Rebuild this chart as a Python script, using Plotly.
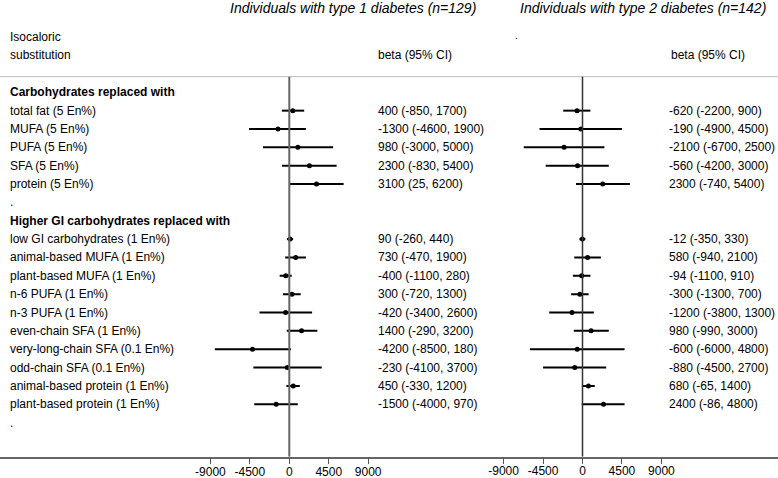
import plotly.graph_objects as go

# ---------------- data ----------------
row_labels = [
    "Carbohydrates replaced with",
    "total fat (5 En%)", "MUFA (5 En%)", "PUFA (5 En%)", "SFA (5 En%)", "protein (5 En%)",
    ".",
    "Higher GI carbohydrates replaced with",
    "low GI carbohydrates (1 En%)", "animal-based MUFA (1 En%)", "plant-based MUFA (1 En%)",
    "n-6 PUFA (1 En%)", "n-3 PUFA (1 En%)", "even-chain SFA (1 En%)",
    "very-long-chain SFA (0.1 En%)", "odd-chain SFA (0.1 En%)",
    "animal-based protein (1 En%)", "plant-based protein (1 En%)",
    ".",
]
header_rows = [0, 7]
data_rows = [1, 2, 3, 4, 5, 8, 9, 10, 11, 12, 13, 14, 15, 16, 17]

t1_est = [400, -1300, 980, 2300, 3100, 90, 730, -400, 300, -420, 1400, -4200, -230, 450, -1500]
t1_lo = [-850, -4600, -3000, -830, 25, -260, -470, -1100, -720, -3400, -290, -8500, -4100, -330, -4000]
t1_hi = [1700, 1900, 5000, 5400, 6200, 440, 1900, 280, 1300, 2600, 3200, 180, 3700, 1200, 970]

t2_est = [-620, -190, -2100, -560, 2300, -12, 580, -94, -300, -1200, 980, -600, -880, 680, 2400]
t2_lo = [-2200, -4900, -6700, -4200, -740, -350, -940, -1100, -1300, -3800, -990, -6000, -4500, -65, -86]
t2_hi = [900, 4500, 2500, 3000, 5400, 330, 2100, 910, 700, 1300, 3000, 4800, 2700, 1400, 4800]

tick_vals = [-9000, -4500, 0, 4500, 9000]
title1 = "Individuals with type 1 diabetes (n=129)"
title2 = "Individuals with type 2 diabetes (n=142)"

# ---------------- layout constants ----------------
W, H = 778, 478
ROW0, ROWH = 92.3, 18.35          # pixel centre of first row, row height
AXIS_PX = 456.7                   # pixel y of x-axis line
PPU = 114.1                        # data units per pixel
Z1, Z2 = 289.3, 582.5             # pixel x of zero lines


def yrow(px):
    return (px - ROW0) / ROWH


FONT = "Liberation Sans, Arial, sans-serif"

fig = go.Figure()

for est, lo, hi, xa in [(t1_est, t1_lo, t1_hi, "x"), (t2_est, t2_lo, t2_hi, "x2")]:
    fig.add_trace(go.Scatter(
        x=est, y=data_rows, xaxis=xa, yaxis="y", mode="markers",
        marker=dict(color="black", size=5, symbol="circle"),
        error_x=dict(type="data", symmetric=False,
                     array=[h - e for h, e in zip(hi, est)],
                     arrayminus=[e - l for e, l in zip(est, lo)],
                     thickness=2, width=0, color="black"),
        showlegend=False, hoverinfo="skip",
    ))

ann = []
for i, lab in enumerate(row_labels):
    ann.append(dict(x=8 / W, xref="paper", y=i, yref="y", text=f"<b>{lab}</b>" if i in header_rows else lab,
                    xanchor="left", yanchor="middle", showarrow=False, font=dict(size=12)))
for r, e, l, h in zip(data_rows, t1_est, t1_lo, t1_hi):
    ann.append(dict(x=376 / W, xref="paper", y=r, yref="y", text=f"{e} ({l}, {h})",
                    xanchor="left", yanchor="middle", showarrow=False, font=dict(size=12)))
for r, e, l, h in zip(data_rows, t2_est, t2_lo, t2_hi):
    ann.append(dict(x=667 / W, xref="paper", y=r, yref="y", text=f"{e} ({l}, {h})",
                    xanchor="left", yanchor="middle", showarrow=False, font=dict(size=12)))

ann += [
    dict(x=353 / W, xref="paper", y=yrow(8), yref="y", text=f"<i>{title1}</i>", xanchor="center",
         yanchor="middle", showarrow=False, font=dict(size=14)),
    dict(x=643 / W, xref="paper", y=yrow(8), yref="y", text=f"<i>{title2}</i>", xanchor="center",
         yanchor="middle", showarrow=False, font=dict(size=14)),
    dict(x=8 / W, xref="paper", y=yrow(36.7), yref="y", text="Isocaloric", xanchor="left",
         yanchor="middle", showarrow=False, font=dict(size=12)),
    dict(x=8 / W, xref="paper", y=yrow(55), yref="y", text="substitution", xanchor="left",
         yanchor="middle", showarrow=False, font=dict(size=12)),
    dict(x=376 / W, xref="paper", y=yrow(55), yref="y", text="beta (95% CI)", xanchor="left",
         yanchor="middle", showarrow=False, font=dict(size=12)),
    dict(x=669 / W, xref="paper", y=yrow(55), yref="y", text="beta (95% CI)", xanchor="left",
         yanchor="middle", showarrow=False, font=dict(size=12)),
    dict(x=513 / W, xref="paper", y=yrow(35), yref="y", text=".", xanchor="left",
         yanchor="middle", showarrow=False, font=dict(size=10)),
]

sep = yrow(76.7)
bottom = yrow(AXIS_PX)
shapes = [
    dict(type="line", xref="paper", x0=0, x1=1, yref="y", y0=sep, y1=sep,
         line=dict(color="#c8c8c8", width=1.2)),
    dict(type="line", xref="x", x0=0, x1=0, yref="y", y0=sep, y1=bottom,
         line=dict(color="#666666", width=2)),
    dict(type="line", xref="x2", x0=0, x1=0, yref="y", y0=sep, y1=bottom,
         line=dict(color="#333333", width=1.5)),
]

axis_common = dict(tickvals=tick_vals, ticktext=[str(v) for v in tick_vals], ticks="outside",
                   ticklen=6, tickwidth=1.2, tickcolor="#555555", showgrid=False, zeroline=False,
                   automargin=False, ticklabelstandoff=-3,
                   tickfont=dict(size=12, color="black"), domain=[0, 1], anchor="y", fixedrange=True)

fig.update_layout(
    template="none",
    width=W, height=H, margin=dict(l=0, r=0, t=0, b=0, pad=0),
    paper_bgcolor="white", plot_bgcolor="white",
    font=dict(family=FONT, color="black", size=12),
    xaxis=dict(range=[-Z1 * PPU, (W - Z1) * PPU], showline=True, linecolor="#666666",
               linewidth=1.5, **axis_common),
    xaxis2=dict(range=[-Z2 * PPU, (W - Z2) * PPU], overlaying="x", side="bottom",
                showline=False, **axis_common),
    yaxis=dict(range=[bottom, yrow(0)], domain=[(H - AXIS_PX) / H, 1], visible=False,
               automargin=False, fixedrange=True),
    annotations=ann, shapes=shapes,
)

fig.write_html("out.html", config={"displayModeBar": False},
               post_script="document.body.style.margin='0';document.body.style.overflow='hidden';")
